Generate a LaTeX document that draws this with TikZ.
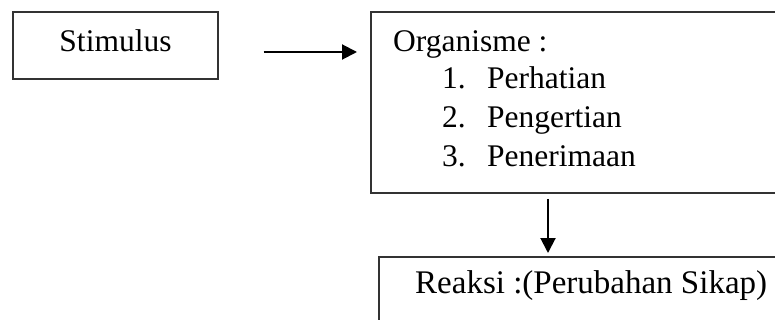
\documentclass[tikz,border=0pt]{standalone}
\usepackage{fontspec}
\setmainfont{Liberation Serif}
\usetikzlibrary{arrows.meta}

\begin{document}
\begin{tikzpicture}[x=1pt,y=-1pt,
  box/.style={draw=black!80, line width=1.2pt, rectangle, inner sep=0pt},
  lbl/.style={inner sep=0pt, anchor=base west, font=\fontsize{31.5}{37}\selectfont},
  arr/.style={line width=2pt, -{Triangle[length=15pt,width=15pt]}}]
  \useasboundingbox (0,0) rectangle (775,320);
  \clip (0,0) rectangle (775,320);

  % boxes (the right-hand ones run past the page edge)
  \node[box, minimum width=205pt, minimum height=67pt] (stim) at (115.5,45.5) {};
  \node[box, minimum width=440pt, minimum height=181pt] (org) at (591,102.5) {};
  \node[box, minimum width=440pt, minimum height=100pt] (reak) at (599,307) {};

  % texts
  \node[lbl, anchor=base] (tstim) at (115.5,52) {Stimulus};
  \node[lbl] (torg) at (393,52) {Organisme :};
  \node[lbl] (n1) at (442,89) {1.};
  \node[lbl] (t1) at (487,89) {Perhatian};
  \node[lbl] (n2) at (442,128) {2.};
  \node[lbl] (t2) at (487,128) {Pengertian};
  \node[lbl] (n3) at (442,167) {3.};
  \node[lbl] (t3) at (487,167) {Penerimaan};
  \node[lbl, font=\fontsize{33}{39}\selectfont] (treak) at (415,293) {Reaksi :(Perubahan Sikap)};

  % connectors
  \coordinate (h1) at ([xshift=45pt,yshift=-6.5pt]stim.east);
  \coordinate (h2) at (357,52);
  \draw[arr] (h1) -- (h2);
  \coordinate (v1) at (548,199);
  \coordinate (v2) at (548,253);
  \draw[arr] (v1) -- (v2);
\end{tikzpicture}
\end{document}
